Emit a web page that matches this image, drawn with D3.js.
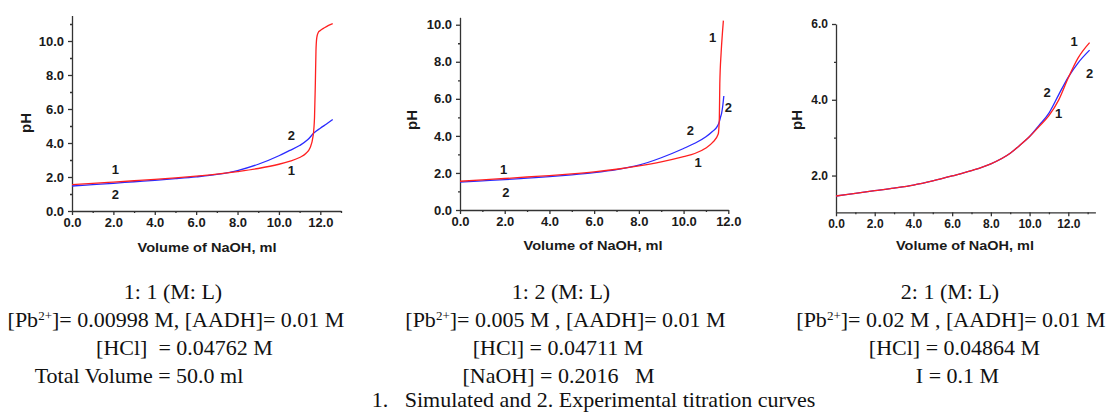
<!DOCTYPE html>
<html>
<head>
<meta charset="utf-8">
<script src="https://cdn.jsdelivr.net/npm/d3@7"></script>
<style>
  body { margin: 0; background: #fff; }
  .tick text { font-family: "Liberation Sans", Arial, sans-serif; font-weight: bold; fill: #1a1a1a; }
  .axis-title { font-family: "Liberation Sans", Arial, sans-serif; font-weight: bold; fill: #1a1a1a; }
  .curve-label { font-family: "Liberation Sans", Arial, sans-serif; font-weight: bold; font-size: 13px; fill: #1a1a1a; }
  .caption { font-family: "Liberation Serif", "Times New Roman", serif; font-size: 22px; fill: #111; white-space: pre; }
</style>
</head>
<body>
<svg width="1110" height="413"></svg>
<script>
// panel 1 : 1:1 (M:L)
var p1SimVol = [0, 1, 2, 3, 4, 5, 6, 7, 8, 9, 10, 10.5, 11, 11.3, 11.5, 11.65, 11.72, 11.76, 11.79, 11.83, 11.9, 12.0, 12.2, 12.4, 12.6];
var p1SimPH  = [1.55, 1.62, 1.7, 1.78, 1.86, 1.95, 2.05, 2.17, 2.32, 2.5, 2.75, 2.92, 3.15, 3.38, 3.7, 4.4, 5.5, 7.5, 9.4, 10.2, 10.5, 10.62, 10.78, 10.92, 11.02];
var p1ExpVol = [0, 1, 2, 3, 4, 5, 6, 7, 8, 9, 10, 10.5, 11, 11.4, 11.7, 12.0, 12.3, 12.6];
var p1ExpPH  = [1.47, 1.55, 1.63, 1.72, 1.8, 1.9, 2.01, 2.15, 2.38, 2.75, 3.25, 3.55, 3.85, 4.2, 4.6, 4.87, 5.12, 5.38];

// panel 2 : 1:2 (M:L)
var p2SimVol = [0, 1, 2, 3, 4, 5, 6, 7, 8, 9, 10, 10.5, 11, 11.3, 11.55, 11.6, 11.62, 11.68, 11.74, 11.78];
var p2SimPH  = [1.55, 1.63, 1.7, 1.78, 1.86, 1.95, 2.06, 2.2, 2.38, 2.6, 2.88, 3.05, 3.35, 3.65, 4.1, 5.0, 6.8, 8.5, 9.6, 10.22];
var p2ExpVol = [0, 1, 2, 3, 4, 5, 6, 7, 8, 9, 10, 10.5, 11, 11.3, 11.5, 11.6, 11.65, 11.7, 11.75, 11.8];
var p2ExpPH  = [1.5, 1.57, 1.64, 1.72, 1.8, 1.9, 2.02, 2.18, 2.42, 2.82, 3.32, 3.6, 3.95, 4.25, 4.5, 4.77, 5.0, 5.22, 5.6, 6.15];

// panel 3 : 2:1 (M:L)
var p3SimVol = [0, 1, 2, 3, 4, 5, 6, 7, 8, 9, 9.5, 10, 10.5, 11, 11.5, 12, 12.5, 13.1];
var p3SimPH  = [1.46, 1.53, 1.6, 1.67, 1.75, 1.86, 1.99, 2.13, 2.31, 2.59, 2.8, 3.03, 3.3, 3.58, 3.99, 4.58, 5.1, 5.51];
var p3ExpVol = [0, 1, 2, 3, 4, 5, 6, 7, 8, 9, 9.5, 10, 10.5, 11, 11.5, 12, 12.5, 13.1];
var p3ExpPH  = [1.46, 1.53, 1.6, 1.67, 1.75, 1.86, 1.99, 2.13, 2.31, 2.59, 2.8, 3.03, 3.33, 3.65, 4.13, 4.6, 4.97, 5.31];

// tick values
var xTicks = [0, 2, 4, 6, 8, 10, 12];
var p1YTicks = [0, 2, 4, 6, 8, 10];
var p2YTicks = [0, 2, 4, 6, 8, 10];
var p3YTicks = [2, 4, 6];

// captions ("|" marks the superscript part)
var p1Caption = ['1: 1 (M: L)', '[Pb|2+|]= 0.00998 M, [AADH]= 0.01 M', '[HCl]  = 0.04762 M', 'Total Volume = 50.0 ml'];
var p2Caption = ['1: 2 (M: L)', '[Pb|2+|]= 0.005 M , [AADH]= 0.01 M', '[HCl] = 0.04711 M', '[NaOH] = 0.2016   M'];
var p3Caption = ['2: 1 (M: L)', '[Pb|2+|]= 0.02 M , [AADH]= 0.01 M', '[HCl] = 0.04864 M', 'I = 0.1 M'];
var footnote = '1.   Simulated and 2. Experimental titration curves';

var svg = d3.select('svg');

function zip(xs, ys) {
    return xs.map(function (v, i) { return { v: v, ph: ys[i] }; });
}

function drawPanel(cfg) {
    var x = d3.scaleLinear().domain(cfg.xDomain).range(cfg.xRange);
    var y = d3.scaleLinear().domain(cfg.yDomain).range(cfg.yRange);
    var g = svg.append('g');

    // minor ticks first
    g.append('g').attr('class', 'minor')
        .attr('transform', `translate(0, ${cfg.yRange[0]})`)
        .call(d3.axisBottom(x).tickValues(cfg.xMinor).tickSize(2).tickFormat(''))
        .call(a => a.select('.domain').remove());
    g.append('g').attr('class', 'minor')
        .attr('transform', `translate(${cfg.xRange[0]}, 0)`)
        .call(d3.axisLeft(y).tickValues(cfg.yMinor).tickSize(2).tickFormat(''))
        .call(a => a.select('.domain').remove());

    var xa = g.append('g')
        .attr('transform', `translate(0, ${cfg.yRange[0]})`)
        .call(d3.axisBottom(x).tickValues(xTicks).tickSizeInner(4).tickSizeOuter(0)
            .tickPadding(3).tickFormat(d3.format('.1f')));
    xa.selectAll('.tick text').style('font-size', cfg.tickFont + 'px');

    var ya = g.append('g')
        .attr('transform', `translate(${cfg.xRange[0]}, 0)`)
        .call(d3.axisLeft(y).tickValues(cfg.yTicks).tickSizeInner(4).tickSizeOuter(0)
            .tickPadding(4).tickFormat(d3.format('.1f')));
    ya.selectAll('.tick text').style('font-size', cfg.tickFont + 'px');

    g.selectAll('.domain, .tick line').attr('stroke', '#333').attr('stroke-width', 1.3);

    var line = d3.line()
        .x(d => x(d.v))
        .y(d => y(d.ph))
        .curve(d3.curveMonotoneX);

    g.append('path').datum(zip(cfg.expVol, cfg.expPH))
        .attr('d', line).attr('fill', 'none')
        .attr('stroke', '#2a2aff').attr('stroke-width', 1.3);
    g.append('path').datum(zip(cfg.simVol, cfg.simPH))
        .attr('d', line).attr('fill', 'none')
        .attr('stroke', '#ff2020').attr('stroke-width', 1.3);

    // curve labels, placed in data space
    g.selectAll('.curve-label').data(cfg.labels).enter()
        .append('text').attr('class', 'curve-label')
        .attr('x', d => x(d[1])).attr('y', d => y(d[2]))
        .attr('text-anchor', 'middle').attr('dy', '0.35em')
        .text(d => d[0]);

    g.append('text').attr('class', 'axis-title')
        .attr('x', cfg.xTitle[0]).attr('y', cfg.xTitle[1])
        .attr('text-anchor', 'middle').style('font-size', '12.5px')
        .attr('textLength', cfg.xTitleLen).attr('lengthAdjust', 'spacingAndGlyphs')
        .text('Volume of NaOH, ml');
    g.append('text').attr('class', 'axis-title')
        .attr('transform', `translate(${cfg.yTitle[0]}, ${cfg.yTitle[1]}) rotate(-90)`)
        .attr('text-anchor', 'middle').attr('dy', '0.35em').style('font-size', '15px')
        .text('pH');

    // caption under the panel
    cfg.caption.forEach(function (s, i) {
        var t = svg.append('text').attr('class', 'caption')
            .attr('x', cfg.capX[i]).attr('y', 299 + i * 28)
            .attr('text-anchor', 'middle');
        var parts = s.split('|');
        if (parts.length === 1) {
            t.text(s);
        } else {
            t.append('tspan').text(parts[0]);
            t.append('tspan').attr('dy', -7).style('font-size', '13px').text(parts[1]);
            t.append('tspan').attr('dy', 7).text(parts[2]);
        }
    });
}

drawPanel({
    xDomain: [0, 13], xRange: [72, 341],
    yDomain: [0, 11.5], yRange: [211, 15.5],
    xMinor: [1, 3, 5, 7, 9, 11, 13], yMinor: [1, 3, 5, 7, 9, 11],
    yTicks: p1YTicks, tickFont: 13,
    simVol: p1SimVol, simPH: p1SimPH, expVol: p1ExpVol, expPH: p1ExpPH,
    labels: [['1', 2.1, 2.45], ['2', 2.1, 0.95], ['2', 10.6, 4.45], ['1', 10.6, 2.4]],
    xTitle: [207, 252], xTitleLen: 139, yTitle: [26, 123],
    caption: p1Caption, capX: [173, 176, 184.5, 139]
});

drawPanel({
    xDomain: [0, 12], xRange: [460, 728.3],
    yDomain: [0, 10.4], yRange: [210, 17.3],
    xMinor: [1, 3, 5, 7, 9, 11], yMinor: [1, 3, 5, 7, 9],
    yTicks: p2YTicks, tickFont: 13,
    simVol: p2SimVol, simPH: p2SimPH, expVol: p2ExpVol, expPH: p2ExpPH,
    labels: [['1', 11.3, 9.3], ['2', 12.0, 5.55], ['2', 10.3, 4.3], ['1', 10.65, 2.55], ['1', 1.95, 2.2], ['2', 2.05, 0.95]],
    xTitle: [593, 250], xTitleLen: 139, yTitle: [412, 120],
    caption: p2Caption, capX: [561, 565.5, 558, 558.5]
});

drawPanel({
    xDomain: [0, 13.4], xRange: [836, 1095.4],
    yDomain: [1.03, 6], yRange: [212.3, 24],
    xMinor: [1, 3, 5, 7, 9, 11, 13], yMinor: [3, 5],
    yTicks: p3YTicks, tickFont: 12,
    simVol: p3SimVol, simPH: p3SimPH, expVol: p3ExpVol, expPH: p3ExpPH,
    labels: [['1', 12.3, 5.55], ['2', 13.1, 4.7], ['2', 10.9, 4.2], ['1', 11.5, 3.65]],
    xTitle: [965, 250], xTitleLen: 138, yTitle: [797, 120],
    caption: p3Caption, capX: [950, 951, 954.5, 957.5]
});

svg.append('text').attr('class', 'caption')
    .attr('x', 593.5).attr('y', 407)
    .attr('text-anchor', 'middle')
    .text(footnote);
</script>
</body>
</html>
